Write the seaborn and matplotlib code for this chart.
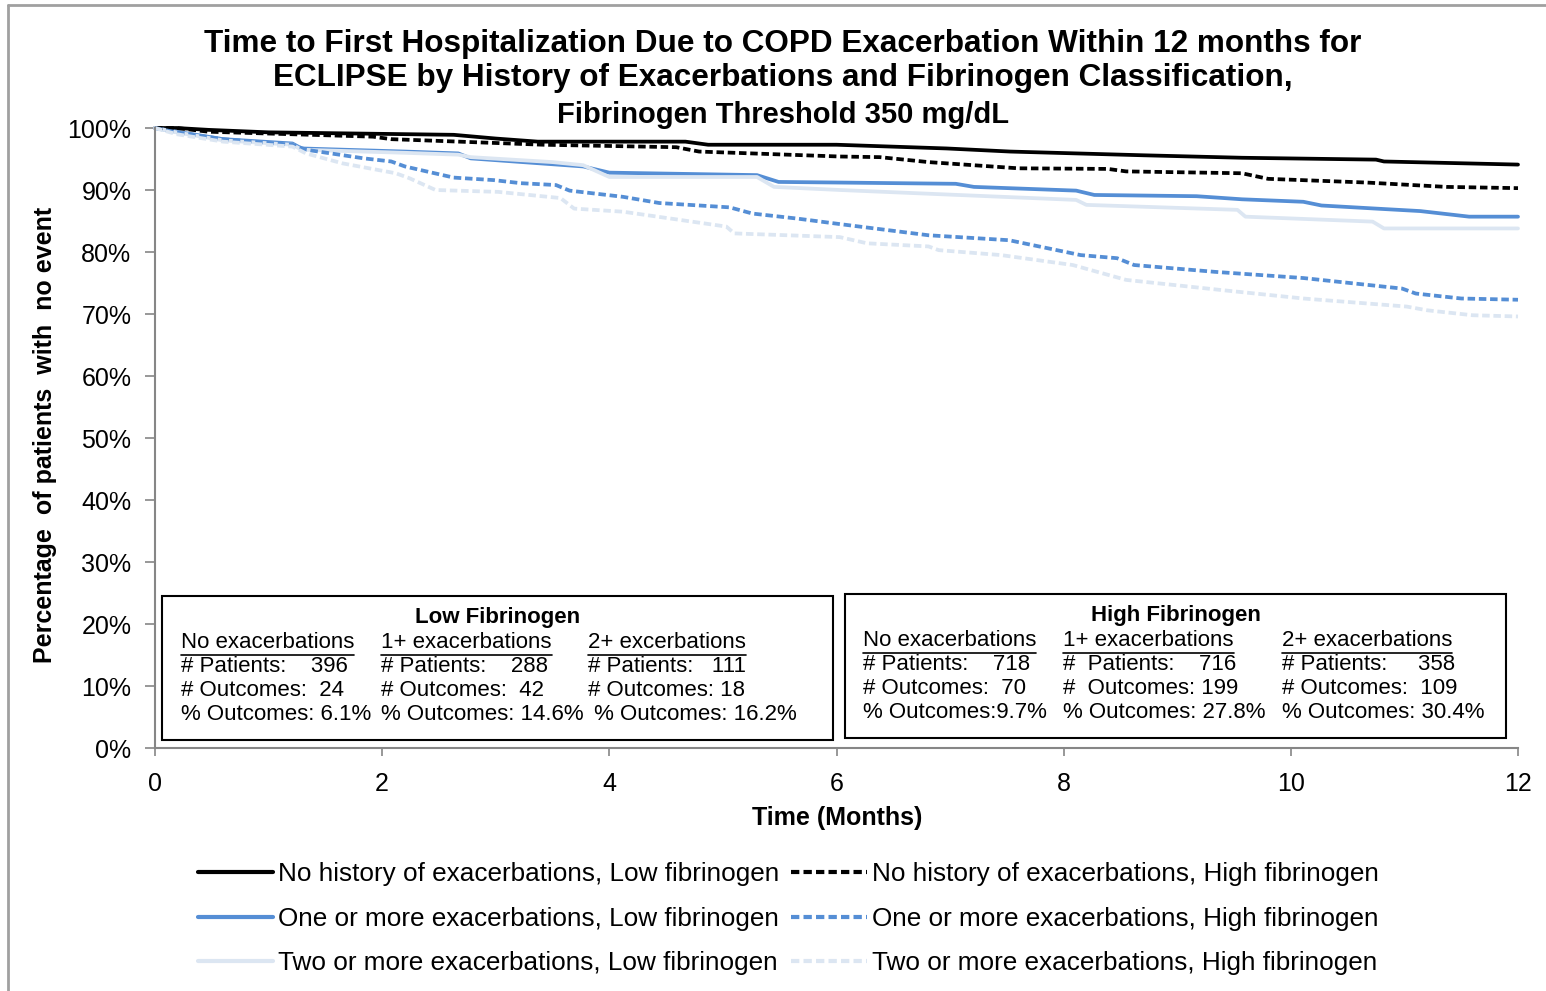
import matplotlib
matplotlib.use('Agg')
import matplotlib.pyplot as plt
import seaborn as sns
import pandas as pd
from matplotlib.lines import Line2D
from matplotlib.patches import Rectangle

# Kaplan-Meier style curves (months, % with no event)
t_none_low = [0, 0.19, 0.47, 1.0, 2.63, 3.0, 3.37, 4.67, 4.87, 6.0, 6.97, 7.53,
              8.7, 9.57, 10.75, 10.82, 11.53, 12]
v_none_low = [100, 100, 99.7, 99.3, 98.9, 98.3, 97.8, 97.8, 97.3, 97.3, 96.7, 96.2,
              95.6, 95.2, 94.9, 94.6, 94.3, 94.1]

t_none_high = [0, 0.19, 0.47, 1.92, 2.08, 3.42, 4.59, 4.79, 6.03, 6.38, 6.81, 7.6,
               8.39, 8.55, 9.57, 9.8, 10.67, 11.37, 12]
v_none_high = [100, 100, 99.4, 98.6, 98.2, 97.3, 96.9, 96.2, 95.4, 95.3, 94.5, 93.5,
               93.4, 93.0, 92.7, 91.8, 91.2, 90.5, 90.3]

t_one_low = [0, 0.19, 0.6, 1.21, 1.29, 2.2, 2.67, 2.78, 3.77, 4.0, 5.3, 5.49, 6.03,
             7.05, 7.21, 8.11, 8.27, 9.17, 9.57, 10.11, 10.27, 10.75, 11.14, 11.57, 12]
v_one_low = [100, 99.4, 98.2, 97.5, 96.7, 96.2, 95.9, 95.1, 93.8, 92.8, 92.4, 91.3, 91.2,
             91.0, 90.5, 89.9, 89.2, 89.0, 88.5, 88.1, 87.5, 87.0, 86.6, 85.7, 85.7]

t_two_low = [0, 0.19, 0.6, 1.21, 1.29, 2.2, 2.67, 2.78, 3.5, 3.77, 4.0, 5.3, 5.45,
             6.03, 8.11, 8.2, 9.53, 9.6, 10.72, 10.82, 12]
v_two_low = [100, 99.3, 98.0, 97.3, 96.5, 96.0, 95.7, 95.3, 94.5, 94.0, 92.1, 92.1, 90.5,
             90.0, 88.4, 87.6, 86.8, 85.7, 84.9, 83.8, 83.8]

t_one_high = [0, 0.19, 0.6, 1.21, 1.33, 1.84, 2.08, 2.2, 2.39, 2.63, 2.98, 3.22, 3.53,
              3.65, 4.12, 4.44, 5.06, 5.26, 5.65, 6.03, 6.81, 7.52, 8.15, 8.47, 8.62,
              9.33, 10.11, 10.98, 11.1, 11.5, 12]
v_one_high = [100, 99.3, 98.2, 97.3, 96.5, 95.1, 94.6, 93.8, 93.0, 92.0, 91.6, 91.1, 90.8,
              89.9, 88.9, 87.9, 87.2, 86.2, 85.4, 84.5, 82.7, 81.9, 79.5, 79.0, 77.9,
              76.8, 75.8, 74.1, 73.3, 72.5, 72.3]

t_two_high = [0, 0.19, 0.6, 1.21, 1.33, 1.65, 2.12, 2.24, 2.47, 3.02, 3.57, 3.69, 4.12,
              5.03, 5.1, 6.03, 6.27, 6.81, 6.9, 7.45, 8.08, 8.55, 9.37, 10.11, 11.02,
              11.2, 11.6, 12]
v_two_high = [100, 99.0, 97.8, 97.0, 95.9, 94.3, 92.7, 91.9, 90.0, 89.7, 88.7, 87.0, 86.5,
              84.1, 83.0, 82.4, 81.4, 80.9, 80.3, 79.5, 77.9, 75.5, 73.9, 72.5, 71.2,
              70.6, 69.8, 69.6]

series_labels = [
    'No history of exacerbations, Low fibrinogen',
    'One or more exacerbations, Low fibrinogen',
    'Two or more exacerbations, Low fibrinogen',
    'No history of exacerbations, High fibrinogen',
    'One or more exacerbations, High fibrinogen',
    'Two or more exacerbations, High fibrinogen',
]
series_data = [
    (t_none_low, v_none_low), (t_one_low, v_one_low), (t_two_low, v_two_low),
    (t_none_high, v_none_high), (t_one_high, v_one_high), (t_two_high, v_two_high),
]

box_titles = ['Low Fibrinogen', 'High Fibrinogen']
box_headers = [
    ['No exacerbations', '1+ exacerbations', '2+ excerbations'],
    ['No exacerbations', '1+ exacerbations', '2+ exacerbations'],
]
box_rows = [
    [['# Patients:    396', '# Outcomes:  24', '% Outcomes: 6.1%'],
     ['# Patients:    288', '# Outcomes:  42', '% Outcomes: 14.6%'],
     ['# Patients:   111', '# Outcomes: 18', ' % Outcomes: 16.2%']],
    [['# Patients:    718', '# Outcomes:  70', '% Outcomes:9.7%'],
     ['#  Patients:    716', '#  Outcomes: 199', '% Outcomes: 27.8%'],
     ['# Patients:     358', '# Outcomes:  109', '% Outcomes: 30.4%']],
]

BLACK = '#000000'
BLUE = '#558ED5'
LIGHT = '#DCE6F2'
colors = [BLACK, BLUE, LIGHT, BLACK, BLUE, LIGHT]
dashed = (0, (2.0, 1.0))
styles = ['-', '-', '-', dashed, dashed, dashed]

W, H = 1546, 991


def fx(px):
    return px / W


def fy(py):
    return 1 - py / H


sns.set_theme(style='white')
plt.rcParams['font.family'] = ['Liberation Sans', 'DejaVu Sans']
plt.rcParams['text.color'] = 'black'
plt.rcParams['axes.labelcolor'] = 'black'

fig = plt.figure(figsize=(W / 100, H / 100), dpi=100)
ax = fig.add_axes([fx(155), fy(748), fx(1518) - fx(155), fy(128) - fy(748)])

for (t, v), lab, c, ls in zip(series_data, series_labels, colors, styles):
    df = pd.DataFrame({'month': t, 'pct': v})
    sns.lineplot(data=df, x='month', y='pct', ax=ax, color=c, lw=2.7,
                 linestyle=ls, estimator=None, sort=False, label=lab,
                 clip_on=False, legend=False)

ax.set_xlim(0, 12)
ax.set_ylim(0, 100)
ax.set_xticks(range(0, 13, 2))
ax.set_yticks(range(0, 101, 10))
ax.set_yticklabels([f'{y}%' for y in range(0, 101, 10)])
ax.tick_params(axis='both', labelsize=18, colors='#000000')
ax.tick_params(axis='y', left=True, direction='out', length=7, width=1.2,
               color='#868686', pad=10)
ax.tick_params(axis='x', bottom=True, direction='out', length=6, width=1.2,
               color='#868686', pad=11)
for side in ['top', 'right']:
    ax.spines[side].set_visible(False)
for side in ['left', 'bottom']:
    ax.spines[side].set_color('#868686')
    ax.spines[side].set_linewidth(1.5)

ax.set_xlabel('')
ax.set_ylabel('')
fig.text(fx(837), fy(818), 'Time (Months)', fontsize=18, fontweight='bold',
         ha='center', va='center')
fig.text(fx(45), fy(435), 'Percentage  of patients  with  no event', rotation=90,
         fontsize=18, fontweight='bold', ha='center', va='center')

fig.text(fx(783), fy(44), 'Time to First Hospitalization Due to COPD Exacerbation Within 12 months for',
         fontsize=22.7, fontweight='bold', ha='center', va='center')
fig.text(fx(783), fy(78), 'ECLIPSE by History of Exacerbations and Fibrinogen Classification,',
         fontsize=22.7, fontweight='bold', ha='center', va='center')
fig.text(fx(783), fy(115), 'Fibrinogen Threshold 350 mg/dL',
         fontsize=21, fontweight='bold', ha='center', va='center')

# legend: two columns, filled column-first
handles = [Line2D([0], [0], color=c, lw=3, linestyle=ls) for c, ls in zip(colors, styles)]
fig.legend(handles, series_labels, ncol=2, loc='upper left',
           bbox_to_anchor=(fx(174), fy(839)), frameon=False, fontsize=18.8,
           handlelength=2.9, handletextpad=0.2, columnspacing=0.45, labelspacing=0.78)

# annotation boxes
box_rects = [(162, 596, 833, 740), (845, 594, 1506, 738)]
box_cols = [[181, 381, 588], [863, 1063, 1282]]
renderer = fig.canvas.get_renderer()
for b in range(2):
    x0, y0, x1, y1 = box_rects[b]
    fig.add_artist(Rectangle((fx(x0), fy(y1)), fx(x1) - fx(x0), fy(y0) - fy(y1),
                             transform=fig.transFigure, facecolor='white',
                             edgecolor='black', lw=1.5, zorder=5))
    fig.text(fx((x0 + x1) / 2), fy(y0 + 22), box_titles[b], fontsize=16,
             fontweight='bold', ha='center', va='center', zorder=6)
    for c in range(3):
        cx = box_cols[b][c]
        ht = fig.text(fx(cx), fy(y0 + 46), box_headers[b][c], fontsize=16,
                      ha='left', va='center', zorder=6)
        bb = ht.get_window_extent(renderer=renderer)
        fig.add_artist(Line2D([bb.x0 / W, bb.x1 / W], [(bb.y0 - 2) / H] * 2,
                              transform=fig.transFigure, color='black', lw=1.2,
                              zorder=6))
        for r, txt in enumerate(box_rows[b][c]):
            fig.text(fx(cx), fy(y0 + 71 + 24 * r), txt, fontsize=16,
                     ha='left', va='center', zorder=6)

# outer chart frame (top and left edges visible)
fig.add_artist(Line2D([fx(8), 1], [fy(5), fy(5)], transform=fig.transFigure,
                      color='#A0A0A0', lw=2))
fig.add_artist(Line2D([fx(8), fx(8)], [fy(5), 0], transform=fig.transFigure,
                      color='#A0A0A0', lw=2))

fig.savefig('out.png', dpi=100)
